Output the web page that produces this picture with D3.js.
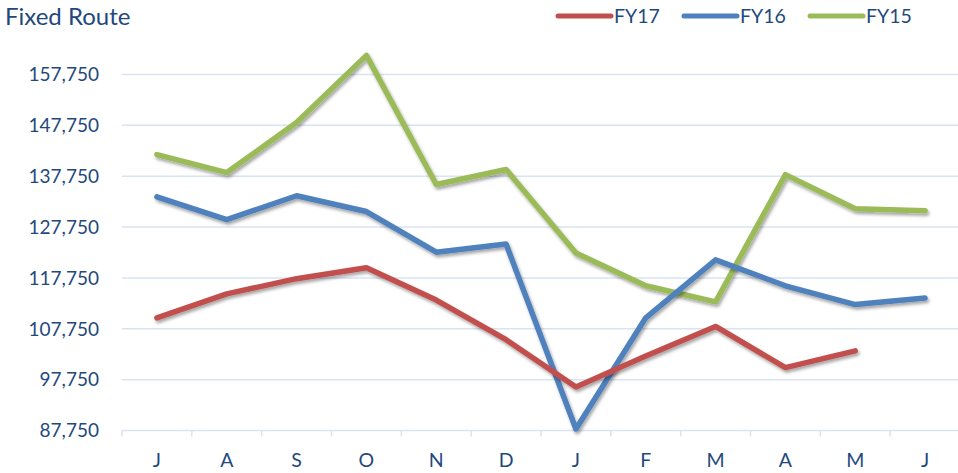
<!DOCTYPE html>
<html>
<head>
<meta charset="utf-8">
<script src="https://cdn.jsdelivr.net/npm/d3@7"></script>
<style>
  body { margin: 0; background: #fff; }
  text { font-family: Lato, "Open Sans", sans-serif; fill: #1F497D; }
</style>
</head>
<body>
<div id="chart"></div>
<script>
// Chart data
const months = ["J", "A", "S", "O", "N", "D", "J", "F", "M", "A", "M", "J"];
const fy17 = [109900, 114600, 117600, 119750, 113400, 105600, 96300, 102400, 108200, 100100, 103400, null];
const fy16 = [133700, 129200, 133900, 130800, 122800, 124400, 88050, 109900, 121300, 116200, 112500, 113800];
const fy15 = [142000, 138450, 148300, 161500, 136100, 139050, 122650, 116200, 113050, 138050, 131350, 130950];
const yTicks = [87750, 97750, 107750, 117750, 127750, 137750, 147750, 157750];
const seriesNames = ["FY17", "FY16", "FY15"];
const colors = ["#C0504D", "#4F81BD", "#9BBB59"];

const W = 958, H = 473;
const margin = { top: 49, right: 0, bottom: 42.5, left: 122 };

const svg = d3.select("#chart")
  .append("svg")
  .attr("width", W)
  .attr("height", H);

// drop shadow for the lines
const defs = svg.append("defs");
const f = defs.append("filter").attr("id", "shadow")
  .attr("x", "-10%").attr("y", "-10%").attr("width", "120%").attr("height", "130%");
f.append("feDropShadow")
  .attr("dx", 1.5).attr("dy", 2.5).attr("stdDeviation", 1.6)
  .attr("flood-color", "#000").attr("flood-opacity", 0.35);

const x = d3.scaleBand()
  .domain(d3.range(months.length))
  .range([margin.left, 960])
  .padding(0);

const y = d3.scaleLinear()
  .domain([87750, 162750])
  .range([H - margin.bottom, margin.top]);

// gridlines
svg.append("g")
  .selectAll("line")
  .data(yTicks)
  .enter().append("line")
  .attr("x1", margin.left)
  .attr("x2", W)
  .attr("y1", d => y(d))
  .attr("y2", d => y(d))
  .attr("stroke", "#D9E4F2")
  .attr("stroke-width", 1.5);

// y axis labels
svg.append("g")
  .selectAll("text")
  .data(yTicks)
  .enter().append("text")
  .attr("x", 99)
  .attr("y", d => y(d))
  .attr("dy", "0.36em")
  .attr("text-anchor", "end")
  .style("font-size", "19px")
  .text(d => d3.format(",")(d));

// x axis tick marks at category boundaries
const bounds = d3.range(months.length + 1).map(i => i < months.length ? x(i) : x(months.length - 1) + x.bandwidth());
svg.append("g")
  .selectAll("line")
  .data(bounds)
  .enter().append("line")
  .attr("x1", d => d)
  .attr("x2", d => d)
  .attr("y1", y(87750))
  .attr("y2", y(87750) + 6)
  .attr("stroke", "#D9E4F2")
  .attr("stroke-width", 1.5);

// x axis labels
svg.append("g")
  .selectAll("text")
  .data(months)
  .enter().append("text")
  .attr("x", (d, i) => x(i) + x.bandwidth() / 2)
  .attr("y", 460)
  .attr("dy", "0.36em")
  .attr("text-anchor", "middle")
  .style("font-size", "19.5px")
  .text(d => d);

// lines
const line = d3.line()
  .defined(d => d != null)
  .x((d, i) => x(i) + x.bandwidth() / 2)
  .y(d => y(d));

const allSeries = [fy17, fy16, fy15];
// green under blue under red
[2, 1, 0].forEach(k => {
  svg.append("path")
    .datum(allSeries[k])
    .attr("d", line)
    .attr("fill", "none")
    .attr("stroke", colors[k])
    .attr("stroke-width", 5.5)
    .attr("stroke-linejoin", "round")
    .attr("stroke-linecap", "round")
    .attr("filter", "url(#shadow)");
});

// title
svg.append("text")
  .attr("x", 5)
  .attr("y", 25)
  .style("font-size", "24px")
  .text("Fixed Route");

// legend
const legendX = [558, 684, 810];
const legend = svg.append("g");
seriesNames.forEach((name, i) => {
  legend.append("line")
    .attr("x1", legendX[i])
    .attr("x2", legendX[i] + 53)
    .attr("y1", 16)
    .attr("y2", 16)
    .attr("stroke", colors[i])
    .attr("stroke-width", 5)
    .attr("stroke-linecap", "round");
  legend.append("text")
    .attr("x", legendX[i] + 56)
    .attr("y", 16)
    .attr("dy", "0.36em")
    .style("font-size", "19.5px")
    .text(name);
});
</script>
</body>
</html>
